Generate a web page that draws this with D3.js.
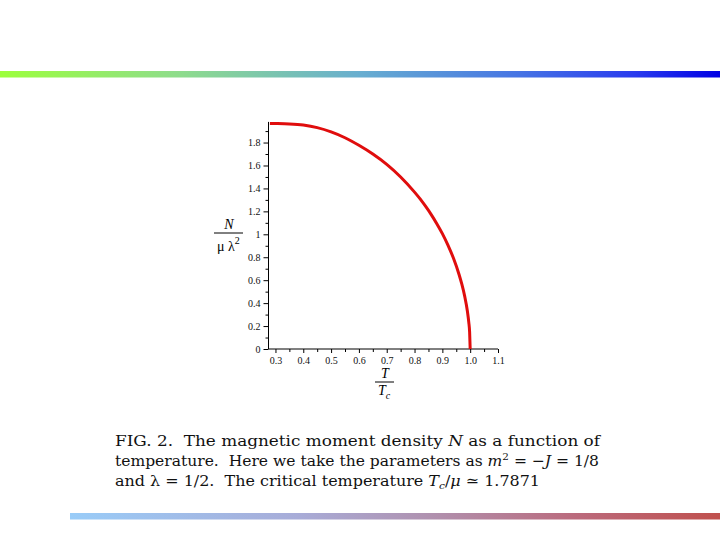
<!DOCTYPE html>
<html>
<head>
<meta charset="utf-8">
<script src="https://cdn.jsdelivr.net/npm/d3@7"></script>
<style>
  html, body { margin: 0; padding: 0; background: #ffffff; }
  svg { display: block; }
  .cap { white-space: pre; }
</style>
</head>
<body>
<svg id="chart" width="720" height="540"></svg>
<script>
// ---- data ----
const tempRatio = [0.28, 0.30, 0.35, 0.40, 0.45, 0.50, 0.55, 0.60, 0.65, 0.70, 0.75, 0.80, 0.82, 0.84, 0.86, 0.88, 0.90, 0.92, 0.94, 0.96, 0.97, 0.98, 0.99, 0.995, 0.998, 1.0];
const momentDensity = [1.967, 1.966, 1.962, 1.952, 1.930, 1.893, 1.842, 1.776, 1.700, 1.610, 1.500, 1.368, 1.309, 1.243, 1.172, 1.093, 1.006, 0.906, 0.791, 0.650, 0.565, 0.463, 0.329, 0.233, 0.147, 0.0];
const xMajorTicks = [0.3, 0.4, 0.5, 0.6, 0.7, 0.8, 0.9, 1.0, 1.1];
const xMajorLabels = ["0.3", "0.4", "0.5", "0.6", "0.7", "0.8", "0.9", "1.0", "1.1"];
const xMinorTicks = [0.35, 0.45, 0.55, 0.65, 0.75, 0.85, 0.95, 1.05];
const yMajorTicks = [0, 0.2, 0.4, 0.6, 0.8, 1, 1.2, 1.4, 1.6, 1.8];
const yMajorLabels = ["0", "0.2", "0.4", "0.6", "0.8", "1", "1.2", "1.4", "1.6", "1.8"];
const yMinorTicks = [0.1, 0.3, 0.5, 0.7, 0.9, 1.1, 1.3, 1.5, 1.7, 1.9];

const svg = d3.select("#chart");
const defs = svg.append("defs");

// ---- decorative gradient bars ----
const gTop = defs.append("linearGradient").attr("id", "gTop").attr("x1", "0%").attr("x2", "100%");
[["0%", "#9cff3c"], ["25%", "#8edc8c"], ["50%", "#68aed0"], ["72%", "#4674e4"], ["88%", "#2a3cee"], ["100%", "#0000e4"]]
  .forEach(([o, c]) => gTop.append("stop").attr("offset", o).attr("stop-color", c));
const gBot = defs.append("linearGradient").attr("id", "gBot").attr("x1", "0%").attr("x2", "100%");
[["0%", "#99ccf8"], ["35%", "#a8acd8"], ["55%", "#b092b0"], ["78%", "#bb6a7c"], ["100%", "#c0504d"]]
  .forEach(([o, c]) => gBot.append("stop").attr("offset", o).attr("stop-color", c));

svg.append("rect").attr("x", 0).attr("y", 71).attr("width", 720).attr("height", 6.5).attr("fill", "url(#gTop)");
svg.append("rect").attr("x", 70).attr("y", 513).attr("width", 650).attr("height", 6.5).attr("fill", "url(#gBot)");

// ---- scales ----
const x = d3.scaleLinear().domain([0.275, 1.1]).range([268.5, 498]);
const y = d3.scaleLinear().domain([0, 1.98]).range([349, 121.9]);

const tickFont = "'Liberation Serif', 'Times New Roman', serif";

// ---- x axis ----
const xAxisG = svg.append("g").attr("transform", `translate(0,${y(0)})`);
xAxisG.call(d3.axisBottom(x).tickValues(xMajorTicks).tickSize(4).tickPadding(4)
  .tickFormat((d, i) => xMajorLabels[i]));
xAxisG.append("g").call(d3.axisBottom(x).tickValues(xMinorTicks).tickSize(3).tickFormat(""))
  .select(".domain").remove();
xAxisG.selectAll(".domain").attr("d", `M${x(0.275)},0H${x(1.1)}`).attr("stroke", "#000");
xAxisG.selectAll("text").attr("font-family", tickFont).attr("font-size", 10).attr("fill", "#111");
xAxisG.selectAll("line").attr("stroke", "#000");

// ---- y axis ----
const yAxisG = svg.append("g").attr("transform", `translate(${x(0.275)},0)`);
yAxisG.call(d3.axisLeft(y).tickValues(yMajorTicks).tickSize(5).tickPadding(3)
  .tickFormat((d, i) => yMajorLabels[i]));
yAxisG.append("g").call(d3.axisLeft(y).tickValues(yMinorTicks).tickSize(3).tickFormat(""))
  .select(".domain").remove();
yAxisG.selectAll(".domain").attr("d", `M0,${y(0)}V${y(1.98)}`).attr("stroke", "#000");
yAxisG.selectAll("text").attr("font-family", tickFont).attr("font-size", 10).attr("fill", "#111");
yAxisG.selectAll("line").attr("stroke", "#000");

// ---- curve ----
const line = d3.line()
  .x((d, i) => x(tempRatio[i]))
  .y(d => y(d))
  .curve(d3.curveMonotoneX);
svg.append("path")
  .datum(momentDensity)
  .attr("d", line)
  .attr("fill", "none")
  .attr("stroke", "#e00d0d")
  .attr("stroke-width", 3)
  .attr("stroke-linecap", "butt");

// ---- axis labels (fractions) ----
const labFont = "'Liberation Serif', 'Times New Roman', serif";
// y label: N / (mu lambda^2)
svg.append("text").attr("x", 229).attr("y", 229).attr("text-anchor", "middle")
  .attr("font-family", labFont).attr("font-style", "italic").attr("font-size", 14).text("N");
svg.append("line").attr("x1", 214).attr("x2", 243).attr("y1", 233).attr("y2", 233)
  .attr("stroke", "#000").attr("stroke-width", 1);
const yDen = svg.append("text").attr("x", 217).attr("y", 251)
  .attr("font-family", labFont).attr("font-size", 14);
yDen.append("tspan").text("μ λ");
yDen.append("tspan").attr("dy", -7).attr("font-size", 10).text("2");

// x label: T / T_c
svg.append("text").attr("x", 385).attr("y", 378).attr("text-anchor", "middle")
  .attr("font-family", labFont).attr("font-style", "italic").attr("font-size", 14).text("T");
svg.append("line").attr("x1", 375).attr("x2", 394).attr("y1", 382).attr("y2", 382)
  .attr("stroke", "#000").attr("stroke-width", 1);
const xDen = svg.append("text").attr("x", 378).attr("y", 395)
  .attr("font-family", labFont).attr("font-style", "italic").attr("font-size", 14);
xDen.append("tspan").text("T");
xDen.append("tspan").attr("dy", 4).attr("font-size", 10).text("c");

// ---- caption ----
const capFont = "'DejaVu Serif', 'Liberation Serif', serif";
const capSize = 15;
const c1 = svg.append("text").attr("class", "cap").attr("x", 115).attr("y", 446)
  .attr("font-family", capFont).attr("font-size", capSize).attr("fill", "#111")
  .attr("textLength", 485).attr("lengthAdjust", "spacingAndGlyphs");
c1.append("tspan").text("FIG. 2.  The magnetic moment density ");
c1.append("tspan").attr("font-style", "italic").text("N");
c1.append("tspan").text(" as a function of");

const c2 = svg.append("text").attr("class", "cap").attr("x", 115).attr("y", 466)
  .attr("font-family", capFont).attr("font-size", capSize).attr("fill", "#111")
  .attr("textLength", 484).attr("lengthAdjust", "spacingAndGlyphs");
c2.append("tspan").text("temperature.  Here we take the parameters as ");
c2.append("tspan").attr("font-style", "italic").text("m");
c2.append("tspan").attr("dy", -6).attr("font-size", 10).text("2");
c2.append("tspan").attr("dy", 6).text(" = −");
c2.append("tspan").attr("font-style", "italic").text("J");
c2.append("tspan").text(" = 1/8");

const c3 = svg.append("text").attr("class", "cap").attr("x", 115).attr("y", 486)
  .attr("font-family", capFont).attr("font-size", capSize).attr("fill", "#111")
  .attr("textLength", 425).attr("lengthAdjust", "spacingAndGlyphs");
c3.append("tspan").text("and λ = 1/2.  The critical temperature ");
c3.append("tspan").attr("font-style", "italic").text("T");
c3.append("tspan").attr("dy", 3).attr("font-size", 10).attr("font-style", "italic").text("c");
c3.append("tspan").attr("dy", -3).text("/");
c3.append("tspan").attr("font-style", "italic").text("μ");
c3.append("tspan").text(" ≃ 1.7871");
</script>
</body>
</html>
